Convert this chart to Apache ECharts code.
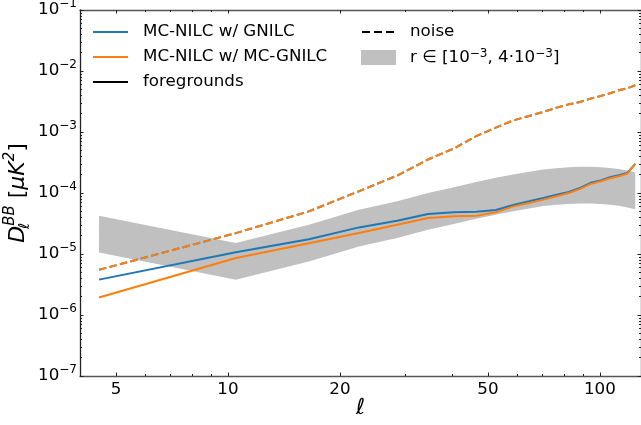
<!DOCTYPE html>
<html><head><meta charset="utf-8">
<script src="https://cdn.jsdelivr.net/npm/echarts@6/dist/echarts.min.js"></script>
<style>html,body{margin:0;padding:0;background:#fff}#c{width:641px;height:425px}</style>
</head><body><div id="c"></div>
<script>
const ell = [4.5,10.5,16.5,22.5,28.5,34.5,40.5,46.5,52.5,58.5,64.5,70.5,76.5,82.5,88.5,94.5,100.5,106.5,112.5,118.5,124.5];
const fgGnilc = [3.8e-6,1.07e-5,1.75e-5,2.73e-5,3.52e-5,4.53e-5,4.85e-5,4.94e-5,5.27e-5,6.37e-5,7.3e-5,8.3e-5,9.4e-5,1.04e-4,1.21e-4,1.47e-4,1.6e-4,1.81e-4,1.95e-4,2.14e-4,3.0e-4];
const fgMcGnilc = [1.93e-6,8.6e-6,1.5e-5,2.21e-5,3.02e-5,3.89e-5,4.14e-5,4.25e-5,4.82e-5,6.04e-5,6.87e-5,7.79e-5,8.82e-5,1.0e-4,1.17e-4,1.41e-4,1.56e-4,1.75e-4,1.88e-4,2.08e-4,3.0e-4];
const noiseGnilc = [5.5e-6,2.2e-5,5.0e-5,1.07e-4,1.93e-4,3.54e-4,5.37e-4,8.57e-4,1.18e-3,1.55e-3,1.83e-3,2.13e-3,2.51e-3,2.84e-3,3.1e-3,3.53e-3,3.89e-3,4.31e-3,4.83e-3,5.21e-3,5.83e-3];
const noiseMcGnilc = [5.5e-6,2.2e-5,5.0e-5,1.07e-4,1.93e-4,3.54e-4,5.37e-4,8.57e-4,1.18e-3,1.55e-3,1.83e-3,2.13e-3,2.51e-3,2.84e-3,3.1e-3,3.53e-3,3.89e-3,4.31e-3,4.83e-3,5.21e-3,5.83e-3];
const rHigh = [4.25e-5,1.51e-5,3.02e-5,5.33e-5,7.3e-5,1.0e-4,1.24e-4,1.52e-4,1.77e-4,2.01e-4,2.22e-4,2.43e-4,2.55e-4,2.65e-4,2.69e-4,2.69e-4,2.65e-4,2.57e-4,2.47e-4,2.33e-4,2.17e-4];
const rLow = [1.06e-5,3.78e-6,7.55e-6,1.33e-5,1.83e-5,2.5e-5,3.1e-5,3.8e-5,4.42e-5,5.0e-5,5.55e-5,6.1e-5,6.4e-5,6.6e-5,6.7e-5,6.7e-5,6.6e-5,6.4e-5,6.2e-5,5.8e-5,5.4e-5];
const xMajorTicks = [5,10,20,50,100];
const xMinorTicks = [4,6,7,8,9,30,40,60,70,80,90];
const yMajorTicks = [1e-7,1e-6,1e-5,1e-4,1e-3,1e-2,1e-1];
const yMinorTicks = [];
for (let e = -7; e < -1; e++) for (let m = 2; m <= 9; m++) yMinorTicks.push(m * Math.pow(10, e));

const FONT = 'DejaVu Sans';
const BLUE = '#1f77b4', ORANGE = '#ff7f0e', GREY = '#c0c0c0';
const zip = (a, b) => a.map((v, i) => [v, b[i]]);

function xAx(pos, major, showLabel, showLine) {
  return {
    type: 'log', logBase: 10, min: 4, max: 129, position: pos, gridIndex: 0,
    axisLine: { show: showLine, onZero: false, lineStyle: { color: '#555', width: 1.3 } },
    axisTick: { show: true, inside: true, length: major ? 3.5 : 2, customValues: major ? xMajorTicks : xMinorTicks, lineStyle: { color: '#222', width: 1 } },
    axisLabel: { show: showLabel, customValues: xMajorTicks, formatter: v => String(Math.round(v)), fontFamily: FONT, fontSize: 16.7, color: '#000', margin: 5 },
    splitLine: { show: false }, minorTick: { show: false }
  };
}
function yAx(pos, major, showLabel, showLine) {
  return {
    type: 'log', logBase: 10, min: 1e-7, max: 1e-1, position: pos, gridIndex: 0,
    axisLine: { show: showLine, onZero: false, lineStyle: { color: '#222', width: 1.3 } },
    axisTick: { show: true, inside: true, length: major ? 3.5 : 2, customValues: major ? yMajorTicks : yMinorTicks, lineStyle: { color: '#222', width: 1 } },
    axisLabel: {
      show: showLabel, customValues: yMajorTicks, margin: 3,
      formatter: v => { const e = Math.round(Math.log10(v)); return '{b|10}{s|' + (e < 0 ? '\u2212' : '') + Math.abs(e) + '}'; },
      rich: {
        b: { fontFamily: FONT, fontSize: 16.7, color: '#000', lineHeight: 24 },
        s: { fontFamily: FONT, fontSize: 12, color: '#000', lineHeight: 10, verticalAlign: 'top' }
      }
    },
    splitLine: { show: false }, minorTick: { show: false }
  };
}

const xAxes = [xAx('bottom', true, true, true), xAx('bottom', false, false, false), xAx('top', true, false, true), xAx('top', false, false, false)];
xAxes[0].name = '\u2113';
xAxes[0].nameLocation = 'middle';
xAxes[0].nameGap = 21;
xAxes[0].nameMoveOverlap = false;
xAxes[0].nameTextStyle = { fontFamily: FONT, fontSize: 22, fontStyle: 'italic', color: '#000' };
const yAxes = [yAx('left', true, true, true), yAx('left', false, false, false), yAx('right', true, false, true), yAx('right', false, false, false)];
yAxes[0].name = '{d|D}{sub|\u2113}{sup|BB}{n| [}{d|\u03bcK}{sup|2}{n|]}';
yAxes[0].nameLocation = 'middle';
yAxes[0].nameRotate = 90;
yAxes[0].nameGap = 47;
yAxes[0].nameMoveOverlap = false;
yAxes[0].nameTextStyle = {
  fontFamily: FONT, fontSize: 22, color: '#000',
  rich: {
    d: { fontFamily: FONT, fontSize: 22, fontStyle: 'italic', color: '#000', lineHeight: 30 },
    n: { fontFamily: FONT, fontSize: 22, color: '#000', lineHeight: 30 },
    sub: { fontFamily: FONT, fontSize: 15, fontStyle: 'italic', color: '#000', lineHeight: 12, verticalAlign: 'bottom', width: 0.1 },
    sup: { fontFamily: FONT, fontSize: 15, fontStyle: 'italic', color: '#000', lineHeight: 12, verticalAlign: 'top' }
  }
};

const lineSeries = (name, data, color, dashed, z) => ({
  name, type: 'line', data, xAxisIndex: 0, yAxisIndex: 0, showSymbol: false, symbol: 'none', z,
  itemStyle: { color }, lineStyle: { color, width: 2, type: dashed ? [7.5, 3.3] : 'solid' },
  animation: false, silent: true
});

const R_NAME = 'r \u2208 [10\u207b\u00b3, 4\u00b710\u207b\u00b3]';
const bandData = ell.map((l, i) => [l, rLow[i], rHigh[i]]);

const legendText = { fontFamily: FONT, fontSize: 16.7, color: '#000', lineHeight: 20 };
const option = {
  animation: false,
  backgroundColor: '#fff',
  grid: { left: 80, right: 0, top: 10, bottom: 49, containLabel: false, outerBoundsMode: 'none' },
  xAxis: xAxes,
  yAxis: yAxes,
  legend: [
    { left: 93, top: 22, orient: 'vertical', itemGap: 5, padding: 0, itemWidth: 35, itemHeight: 2.2, selectedMode: false,
      textStyle: Object.assign({ padding: [0, 0, 0, 10] }, legendText),
      data: [{ name: 'MC-NILC w/ GNILC', icon: 'rect' }, { name: 'MC-NILC w/ MC-GNILC', icon: 'rect' }, { name: 'foregrounds', icon: 'rect' }] },
    { left: 362, top: 22, orient: 'vertical', padding: 0, itemWidth: 32, itemHeight: 2.2, selectedMode: false,
      textStyle: Object.assign({ padding: [0, 0, 0, 11] }, legendText),
      data: [{ name: 'noise', icon: 'path://M0,0h8v2h-8zM12,0h8v2h-8zM24,0h8v2h-8z' }] },
    { left: 361, top: 47.5, orient: 'vertical', padding: 0, itemWidth: 35, itemHeight: 15, selectedMode: false,
      textStyle: Object.assign({ padding: [0, 0, 0, 9] }, legendText),
      formatter: () => 'r \u2208 [10{s|\u22123}, 4\u00b710{s|\u22123}]',
      data: [{ name: R_NAME, icon: 'rect' }] }
  ],
  series: [
    {
      name: R_NAME, type: 'custom', xAxisIndex: 0, yAxisIndex: 0, data: bandData, z: 1, clip: true,
      itemStyle: { color: GREY }, encode: { x: 0, y: [1, 2] }, silent: true,
      renderItem: (params, api) => {
        if (params.dataIndex !== 0) return null;
        const top = bandData.map(d => api.coord([d[0], d[2]]));
        const bot = bandData.map(d => api.coord([d[0], d[1]])).reverse();
        return { type: 'polygon', shape: { points: top.concat(bot) }, style: { fill: GREY } };
      }
    },
    lineSeries('MC-NILC w/ GNILC', zip(ell, fgGnilc), BLUE, false, 3),
    lineSeries('MC-NILC w/ MC-GNILC', zip(ell, fgMcGnilc), ORANGE, false, 4),
    lineSeries('noise GNILC', zip(ell, noiseGnilc), BLUE, true, 5),
    lineSeries('noise MC-GNILC', zip(ell, noiseMcGnilc), ORANGE, true, 6),
    lineSeries('foregrounds', [], '#000', false, 2),
    lineSeries('noise', [], '#000', true, 2)
  ]
};
option.legend[2].textStyle.rich = { s: { fontFamily: FONT, fontSize: 12, color: '#000', verticalAlign: 'top', lineHeight: 10 } };
const chart = echarts.init(document.getElementById('c'), null, { renderer: 'canvas' });
chart.setOption(option);
</script></body></html>
